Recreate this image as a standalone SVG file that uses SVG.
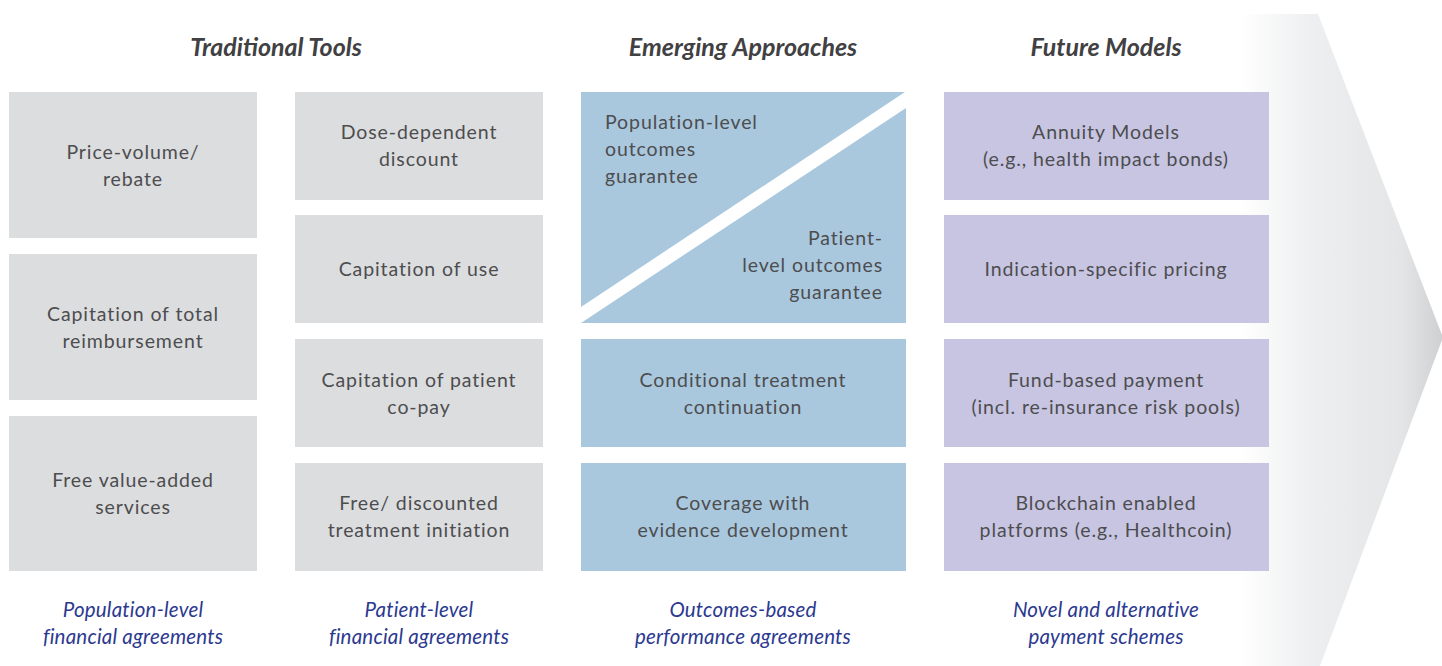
<svg xmlns="http://www.w3.org/2000/svg" width="1442" height="666" viewBox="0 0 1442 666">
<defs>
<linearGradient id="arrowGrad" x1="1240" y1="0" x2="1442" y2="0" gradientUnits="userSpaceOnUse">
<stop offset="0" stop-color="#ffffff"/>
<stop offset="0.35" stop-color="#eeeff0"/>
<stop offset="0.8" stop-color="#e4e5e6"/>
<stop offset="1" stop-color="#cfd0d2"/>
</linearGradient>
<style>
.head{font-family:"Lato","Open Sans",sans-serif;font-style:italic;font-weight:700;font-size:25px;fill:#414042;text-anchor:middle}
.body{font-family:"Lato","Open Sans",sans-serif;font-size:19.5px;letter-spacing:0.9px;fill:#4d4d4f;text-anchor:middle}
.foot{font-family:"Lato","Open Sans",sans-serif;font-style:italic;font-size:20.5px;letter-spacing:0.2px;fill:#2b3990;text-anchor:middle}
.gray{fill:#dcdddf}
.blue{fill:#a9c8de}
.purple{fill:#c8c5e2}
</style>
</defs>
<rect width="1442" height="666" fill="#ffffff"/>
<g id="arrow">
<polygon points="1240,14 1318,14 1442,335 1442,340 1320,666 1240,666" fill="url(#arrowGrad)"/>
</g>
<g id="headers">
<text class="head" x="276" y="56">Traditional Tools</text>
<text class="head" x="743" y="56">Emerging Approaches</text>
<text class="head" x="1106" y="56">Future Models</text>
</g>
<g id="col1">
<g id="n-price-volume"><rect class="gray" x="9" y="92" width="248" height="146"/>
<text class="body" x="133" y="159">Price-volume/</text><text class="body" x="133" y="186">rebate</text></g>
<g id="n-capitation-total"><rect class="gray" x="9" y="254" width="248" height="146"/>
<text class="body" x="133" y="321">Capitation of total</text><text class="body" x="133" y="348">reimbursement</text></g>
<g id="n-free-services"><rect class="gray" x="9" y="416" width="248" height="155"/>
<text class="body" x="133" y="487">Free value-added</text><text class="body" x="133" y="514">services</text></g>
</g>
<g id="col2">
<g id="n-dose"><rect class="gray" x="295" y="92" width="248" height="108"/>
<text class="body" x="419" y="139">Dose-dependent</text><text class="body" x="419" y="166">discount</text></g>
<g id="n-cap-use"><rect class="gray" x="295" y="215" width="248" height="108"/>
<text class="body" x="419" y="276">Capitation of use</text></g>
<g id="n-cap-copay"><rect class="gray" x="295" y="339" width="248" height="108"/>
<text class="body" x="419" y="387">Capitation of patient</text><text class="body" x="419" y="414">co-pay</text></g>
<g id="n-free-init"><rect class="gray" x="295" y="463" width="248" height="108"/>
<text class="body" x="419" y="510">Free/ discounted</text><text class="body" x="419" y="537">treatment initiation</text></g>
</g>
<g id="col3">
<g id="n-pop-outcomes"><polygon class="blue" points="581,92 905,92 581,307"/>
<text class="body" style="text-anchor:start" x="605" y="129">Population-level</text>
<text class="body" style="text-anchor:start" x="605" y="156">outcomes</text>
<text class="body" style="text-anchor:start" x="605" y="183">guarantee</text></g>
<g id="n-pat-outcomes"><polygon class="blue" points="581,323 906,108 906,323"/>
<text class="body" style="text-anchor:end" x="883" y="245">Patient-</text>
<text class="body" style="text-anchor:end" x="883" y="272">level outcomes</text>
<text class="body" style="text-anchor:end" x="883" y="299">guarantee</text></g>
<g id="n-conditional"><rect class="blue" x="581" y="339" width="325" height="108"/>
<text class="body" x="743" y="387">Conditional treatment</text><text class="body" x="743" y="414">continuation</text></g>
<g id="n-coverage"><rect class="blue" x="581" y="463" width="325" height="108"/>
<text class="body" x="743" y="510">Coverage with</text><text class="body" x="743" y="537">evidence development</text></g>
</g>
<g id="col4">
<g id="n-annuity"><rect class="purple" x="944" y="92" width="325" height="108"/>
<text class="body" x="1106" y="139">Annuity Models</text><text class="body" x="1106" y="166">(e.g., health impact bonds)</text></g>
<g id="n-indication"><rect class="purple" x="944" y="215" width="325" height="108"/>
<text class="body" x="1106" y="276">Indication-specific pricing</text></g>
<g id="n-fund"><rect class="purple" x="944" y="339" width="325" height="108"/>
<text class="body" x="1106" y="387">Fund-based payment</text><text class="body" x="1106" y="414">(incl. re-insurance risk pools)</text></g>
<g id="n-blockchain"><rect class="purple" x="944" y="463" width="325" height="108"/>
<text class="body" x="1106" y="510">Blockchain enabled</text><text class="body" x="1106" y="537">platforms (e.g., Healthcoin)</text></g>
</g>
<g id="footers">
<text class="foot" x="133" y="617">Population-level</text><text class="foot" x="133" y="644">financial agreements</text>
<text class="foot" x="419" y="617">Patient-level</text><text class="foot" x="419" y="644">financial agreements</text>
<text class="foot" x="743" y="617">Outcomes-based</text><text class="foot" x="743" y="644">performance agreements</text>
<text class="foot" x="1106" y="617">Novel and alternative</text><text class="foot" x="1106" y="644">payment schemes</text>
</g>
<g id="connectors"/>
</svg>
